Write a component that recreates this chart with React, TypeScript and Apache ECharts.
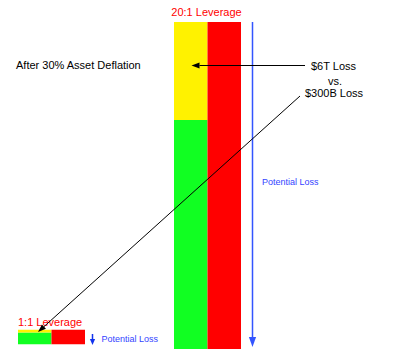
import React, { useEffect, useRef } from "react";
import * as echarts from "echarts";

const categoriesSmall = ["1:1 Leverage"];
const categoriesBig = ["20:1 Leverage"];
const smallRemaining = [0.8];
const smallLoss = [0.2];
const smallDebt = [1];
const bigRemaining = [14];
const bigLoss = [6];
const bigDebt = [20];

const FONT = "Liberation Sans, Arial, sans-serif";

function arrow(x1: number, y1: number, x2: number, y2: number, len: number, half: number, color: string, lw: number) {
  const dx = x2 - x1, dy = y2 - y1;
  const L = Math.sqrt(dx * dx + dy * dy);
  const ux = dx / L, uy = dy / L;
  const bx = x2 - ux * len, by = y2 - uy * len;
  const px = -uy * half, py = ux * half;
  return [
    { type: "line", z: 100, shape: { x1, y1, x2: bx, y2: by }, style: { stroke: color, lineWidth: lw } },
    { type: "polygon", z: 100, shape: { points: [[x2, y2], [bx + px, by + py], [bx - px, by - py]] }, style: { fill: color } },
  ];
}

export default function App() {
  const ref = useRef<HTMLDivElement>(null);
  useEffect(() => {
    if (!ref.current) return;
    const chart = echarts.init(ref.current, null, { renderer: "svg" });
    const barCommon = { type: "bar", barGap: "0%", barCategoryGap: "0%", silent: true };
    chart.setOption({
      animation: false,
      grid: [
        { left: 18, top: 329.7, width: 67, height: 14.6 },
        { left: 174, top: 22, width: 67, height: 327 },
      ],
      xAxis: [
        { type: "category", gridIndex: 0, data: categoriesSmall, show: false },
        { type: "category", gridIndex: 1, data: categoriesBig, show: false },
      ],
      yAxis: [
        { type: "value", gridIndex: 0, min: 0, max: 1, show: false },
        { type: "value", gridIndex: 1, min: 0, max: 20, show: false },
      ],
      series: [
        { ...barCommon, xAxisIndex: 0, yAxisIndex: 0, stack: "s1", data: smallRemaining, itemStyle: { color: "#11ff22" } },
        { ...barCommon, xAxisIndex: 0, yAxisIndex: 0, stack: "s1", data: smallLoss, itemStyle: { color: "#fff200" } },
        { ...barCommon, xAxisIndex: 0, yAxisIndex: 0, stack: "s2", data: smallDebt, itemStyle: { color: "#ff0000" } },
        { ...barCommon, xAxisIndex: 1, yAxisIndex: 1, stack: "b1", data: bigRemaining, itemStyle: { color: "#11ff22" } },
        { ...barCommon, xAxisIndex: 1, yAxisIndex: 1, stack: "b1", data: bigLoss, itemStyle: { color: "#fff200" } },
        { ...barCommon, xAxisIndex: 1, yAxisIndex: 1, stack: "b2", data: bigDebt, itemStyle: { color: "#ff0000" } },
      ],
      graphic: [
        { type: "text", z: 100, x: 206.5, y: 12, style: { text: "20:1 Leverage", fill: "#ff0000", font: `11px ${FONT}`, align: "center", verticalAlign: "middle" } },
        { type: "text", z: 100, x: 18, y: 321.7, style: { text: "1:1 Leverage", fill: "#ff0000", font: `11px ${FONT}`, align: "left", verticalAlign: "middle" } },
        { type: "text", z: 100, x: 16, y: 65, style: { text: "After 30% Asset Deflation", fill: "#000", font: `11px ${FONT}`, align: "left", verticalAlign: "middle" } },
        { type: "text", z: 100, x: 333.5, y: 66, style: { text: "$6T Loss", fill: "#000", font: `11px ${FONT}`, align: "center", verticalAlign: "middle" } },
        { type: "text", z: 100, x: 335, y: 80.7, style: { text: "vs.", fill: "#000", font: `11px ${FONT}`, align: "center", verticalAlign: "middle" } },
        { type: "text", z: 100, x: 334, y: 92.7, style: { text: "$300B Loss", fill: "#000", font: `11px ${FONT}`, align: "center", verticalAlign: "middle" } },
        { type: "text", z: 100, x: 262, y: 182, style: { text: "Potential Loss", fill: "#3344ff", font: `9px ${FONT}`, align: "left", verticalAlign: "middle" } },
        { type: "text", z: 100, x: 101.5, y: 338.5, style: { text: "Potential Loss", fill: "#3344ff", font: `9px ${FONT}`, align: "left", verticalAlign: "middle" } },
        ...arrow(252.5, 22, 252.5, 347, 10, 3.6, "#3355ff", 1.5),
        ...arrow(92.5, 334, 92.5, 345, 6, 2.6, "#1133ee", 1.5),
        ...arrow(305, 65.5, 191.5, 65.5, 8, 3, "#000", 1),
        ...arrow(300, 96, 38, 332, 8, 3, "#000", 1),
      ],
    });
    return () => chart.dispose();
  }, []);
  return <div ref={ref} style={{ position: "fixed", left: 0, top: 0, width: 400, height: 353, background: "#fff" }} />;
}
